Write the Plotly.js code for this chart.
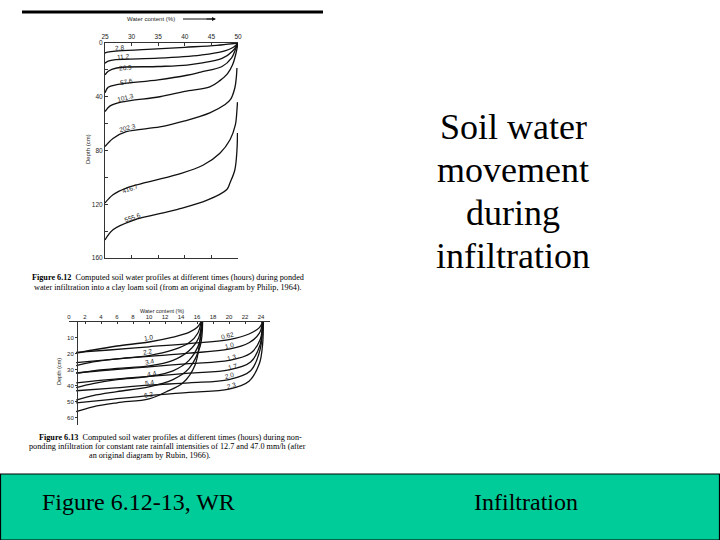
<!DOCTYPE html>
<html><head><meta charset="utf-8">
<script src="https://cdn.plot.ly/plotly-3.0.1.min.js"></script>
<style>html,body{margin:0;padding:0;background:#fff}#g{width:720px;height:540px}</style>
</head><body><div id="g"></div>
<script>
// ---- Figure 6.12 (Philip): water content (%) vs depth (cm), times in hours
const topTimes = ["2.8","11.2","26.9","57.6","101.3","202.3","416.7","555.6"];
const topTheta1 = [25, 25.5, 27, 33, 40, 46, 50];
const topDepth1 = [7.5, 6.8, 6.0, 4.8, 3.2, 1.7, 0];
const topTheta2 = [25, 25.6, 27, 35, 43, 47, 49.2, 50];
const topDepth2 = [15, 13.5, 12.4, 11.3, 9, 6.5, 3, 0];
const topTheta3 = [25, 25.6, 27.2, 35, 40.4, 43, 47, 49, 50];
const topDepth3 = [23.8, 21, 18.6, 17.5, 16.4, 15, 11.5, 6, 0];
const topTheta4 = [25, 25.6, 27.2, 35, 40.4, 43, 47, 48.8, 49.5, 50];
const topDepth4 = [37, 33, 31, 27.5, 24, 21.6, 17.5, 11, 5, 0];
const topTheta5 = [25, 25.9, 28, 35.3, 40, 44.7, 46.6, 48, 49, 49.6, 50];
const topDepth5 = [51, 47, 44, 40, 36, 32.7, 28, 23, 16, 8, 0];
const topTheta6 = [25, 26.5, 29, 35.3, 40, 44.7, 47.5, 48.6, 49.4, 49.7, 49.8];
const topDepth6 = [77, 71, 66, 62.5, 58, 52, 46, 42, 33.5, 25, 18.6];
const topTheta7 = [25, 26.5, 29, 38.5, 43.4, 46.6, 48.5, 49.5, 49.8, 49.9];
const topDepth7 = [119, 113, 108, 98, 91, 82, 72, 61, 50, 44];
const topTheta8 = [25, 26.5, 30.3, 38.5, 44.2, 47.9, 48.5, 49.4, 49.8, 49.9];
const topDepth8 = [146.6, 139, 132, 124, 117, 109, 104, 94.5, 80, 67];
const topLabelTheta = [27.8, 28.4, 28.8, 29.1, 28.8, 29.3, 29.7, 30.1];
const topLabelDepth = [3, 10.4, 17.9, 29, 40.5, 63, 108.6, 129.5];
const topLabelAngle = [-6, -5, -5, -10, -15, -15, -20, -20];
const topXTicks = [25, 30, 35, 40, 45, 50];
const topYTicks = [0, 20, 40, 60, 80, 100, 120, 140, 160];
const topYTickText = ["0", "", "40", "", "80", "", "120", "", "160"];

// ---- Figure 6.13 (Rubin): rainfall 12.7 mm/h (A) and 47.0 mm/h (B)
const lowTimes = ["1.0","2.2","3.4","4.4","5.4","6.2"];
const lowTheta1 = [0.9, 3, 6, 10, 13, 15, 16, 16.5];
const lowDepth1 = [19.5, 17.5, 15, 12.5, 9.5, 6.5, 3.5, 0];
const lowTheta2 = [0.9, 3, 6, 10, 13, 15, 16.1, 16.5];
const lowDepth2 = [27.3, 25, 23, 21, 17.5, 13, 7, 0];
const lowTheta3 = [0.9, 3, 6, 10, 13, 15, 16.2, 16.6];
const lowDepth3 = [32, 30.5, 29, 27.5, 24, 18, 10, 0];
const lowTheta4 = [0.9, 3, 6, 10, 13, 15, 16.3, 16.6];
const lowDepth4 = [41, 38.5, 36, 34, 30.5, 24, 13, 0];
const lowTheta5 = [0.9, 3, 6, 10, 13, 15, 16.4, 16.7];
const lowDepth5 = [48.8, 46, 43.5, 40.5, 36, 29, 15, 0];
const lowTheta6 = [0.9, 3, 6, 10, 12.1, 14.25, 15.75, 16.4, 16.6];
const lowDepth6 = [56, 53, 50.5, 48, 43.75, 38, 27, 10, 0];
const lowLabelTheta = [9.9, 9.75, 10, 10.25, 10.1, 9.9];
const lowLabelDepth = [10, 18.75, 25, 31.9, 38, 45.6];

const highTimes = ["0.62","1.0","1.3","1.7","2.0","2.3"];
const highTheta1 = [0.9, 5, 10, 15, 20, 22.5, 23.8, 24.2];
const highDepth1 = [19, 17.5, 15.5, 13.5, 11, 7.5, 3.5, 0];
const highTheta2 = [0.9, 5, 10, 15, 20, 22.5, 23.8, 24.2];
const highDepth2 = [25.4, 23.5, 21.5, 19.5, 17, 13, 7, 0];
const highTheta3 = [0.9, 5, 10, 15, 20, 22.7, 23.9, 24.2];
const highDepth3 = [31.9, 30, 28, 26, 24, 19.5, 11, 0];
const highTheta4 = [0.9, 5, 10, 15, 20, 22.7, 23.9, 24.2];
const highDepth4 = [38, 36, 34, 32, 30, 25, 14, 0];
const highTheta5 = [0.9, 5, 10, 15, 20, 22.7, 23.9, 24.2];
const highDepth5 = [43, 41.5, 39.5, 38, 36, 30.5, 17, 0];
const highTheta6 = [0.9, 5, 10, 15, 20, 22.5, 23.8, 24.2, 24.3];
const highDepth6 = [50.6, 48.5, 46, 44, 42, 37, 26, 14, 0];
const highLabelTheta = [19.75, 20, 20.25, 20.4, 20, 20.25];
const highLabelDepth = [8.75, 15, 21.9, 28, 33.75, 40];
const lowXTicks = [0, 2, 4, 6, 8, 10, 12, 14, 16, 18, 20, 22, 24];
const lowYTicks = [10, 20, 30, 40, 50, 60];

const W = 720, H = 540;
const px = v => v / W, py = v => 1 - v / H;
const serif = "Liberation Serif, Times New Roman, serif";
const sans = "Liberation Sans, Arial, sans-serif";

const topX = [topTheta1, topTheta2, topTheta3, topTheta4, topTheta5, topTheta6, topTheta7, topTheta8];
const topY = [topDepth1, topDepth2, topDepth3, topDepth4, topDepth5, topDepth6, topDepth7, topDepth8];
const lowX = [lowTheta1, lowTheta2, lowTheta3, lowTheta4, lowTheta5, lowTheta6];
const lowY = [lowDepth1, lowDepth2, lowDepth3, lowDepth4, lowDepth5, lowDepth6];
const highX = [highTheta1, highTheta2, highTheta3, highTheta4, highTheta5, highTheta6];
const highY = [highDepth1, highDepth2, highDepth3, highDepth4, highDepth5, highDepth6];

const traces = [];
const lineStyle = {color: "#111", width: 1.3, shape: "spline", smoothing: 1};
topX.forEach((xs, i) => traces.push({x: xs, y: topY[i], xaxis: "x", yaxis: "y", mode: "lines", line: lineStyle, hoverinfo: "skip"}));
lowX.forEach((xs, i) => traces.push({x: xs, y: lowY[i], xaxis: "x2", yaxis: "y2", mode: "lines", line: lineStyle, hoverinfo: "skip"}));
highX.forEach((xs, i) => traces.push({x: xs, y: highY[i], xaxis: "x2", yaxis: "y2", mode: "lines", line: lineStyle, hoverinfo: "skip"}));

const annotations = [];
const lblFont = {family: sans, size: 6.5, color: "#222"};
topTimes.forEach((t, i) => annotations.push({x: topLabelTheta[i], y: topLabelDepth[i], xref: "x", yref: "y", text: t, showarrow: false, textangle: topLabelAngle[i], font: lblFont}));
lowTimes.forEach((t, i) => annotations.push({x: lowLabelTheta[i], y: lowLabelDepth[i], xref: "x2", yref: "y2", text: t, showarrow: false, textangle: -10, font: lblFont}));
highTimes.forEach((t, i) => annotations.push({x: highLabelTheta[i], y: highLabelDepth[i], xref: "x2", yref: "y2", text: t, showarrow: false, textangle: -14, font: lblFont}));

function note(text, x, y, size, family, opts) {
  return Object.assign({x: px(x), y: py(y), xref: "paper", yref: "paper", text: text, showarrow: false,
    font: {family: family, size: size, color: "#000"}, xanchor: "center", yanchor: "middle"}, opts || {});
}
const capSize = 8.2;
// top figure texts
annotations.push(note("Water content (%)", 151, 19, 6, sans, {font: {family: sans, size: 6, color: "#222"}}));
annotations.push(note("Depth (cm)", 88, 149, 6, sans, {textangle: -90, font: {family: sans, size: 6, color: "#222"}}));
annotations.push(note("<b>Figure 6.12</b>  Computed soil water profiles at different times (hours) during ponded", 30, 277, capSize, serif, {xanchor: "left"}));
annotations.push(note("water infiltration into a clay loam soil (from an original diagram by Philip, 1964).", 32, 287, capSize, serif, {xanchor: "left"}));
// bottom figure texts
annotations.push(note("Water content (%)", 162, 311, 5.5, sans, {font: {family: sans, size: 5.5, color: "#222"}}));
annotations.push(note("Depth (cm)", 59, 372, 5.5, sans, {textangle: -90, font: {family: sans, size: 5.5, color: "#222"}}));
annotations.push(note("<b>Figure 6.13</b>  Computed soil water profiles at different times (hours) during non-", 37, 437, capSize, serif, {xanchor: "left"}));
annotations.push(note("ponding infiltration for constant rate rainfall intensities of 12.7 and 47.0 mm/h (after", 27, 446, capSize, serif, {xanchor: "left"}));
annotations.push(note("an original diagram by Rubin, 1966).", 150, 455, capSize, serif));
// slide title
["Soil water", "movement", "during", "infiltration"].forEach((s, i) => annotations.push(note(s, 513, 127 + 43 * i, 36, serif)));
// footer
annotations.push(note("Figure 6.12-13, WR", 138, 502, 24, serif));
annotations.push(note("Infiltration", 526, 502, 24, serif));

const tickFont = {family: sans, size: 6.5, color: "#222"};
const layout = {
  width: W, height: H, margin: {l: 0, r: 0, t: 0, b: 0},
  paper_bgcolor: "#fff", plot_bgcolor: "rgba(0,0,0,0)", showlegend: false,
  xaxis: {domain: [px(105), px(238)], range: [25, 50], side: "top", anchor: "y", tickvals: topXTicks,
    ticks: "inside", ticklen: 3, tickcolor: "#333", showline: true, linecolor: "#333", linewidth: 1, mirror: "ticks",
    showgrid: false, zeroline: false, tickfont: tickFont},
  yaxis: {domain: [py(258), py(43)], range: [160, 0], anchor: "x", tickvals: topYTicks, ticktext: topYTickText,
    ticks: "inside", ticklen: 3, tickcolor: "#333", showline: true, linecolor: "#333", linewidth: 1,
    showgrid: false, zeroline: false, tickfont: tickFont},
  xaxis2: {domain: [px(69), px(270)], range: [0, 25.125], side: "top", anchor: "y2", tickvals: lowXTicks,
    ticks: "inside", ticklen: 2, tickcolor: "#333", showline: true, linecolor: "#333", linewidth: 1,
    showgrid: false, zeroline: false, tickfont: {family: sans, size: 6, color: "#222"}},
  yaxis2: {domain: [py(425), py(322)], range: [64.4, 0], anchor: "free", position: px(77), tickvals: lowYTicks,
    ticks: "outside", ticklen: 2, tickcolor: "#333", showline: true, linecolor: "#333", linewidth: 1,
    showgrid: false, zeroline: false, tickfont: {family: sans, size: 6, color: "#222"}},
  shapes: [
    {type: "line", xref: "paper", yref: "paper", x0: px(22), x1: px(323), y0: py(12), y1: py(12), line: {color: "#000", width: 3}},
    {type: "line", xref: "paper", yref: "paper", x0: px(183), x1: px(214), y0: py(19), y1: py(19), line: {color: "#111", width: 1}},
    {type: "rect", xref: "paper", yref: "paper", x0: px(0.5), x1: px(719.5), y0: 0, y1: py(474), fillcolor: "#00CC99", line: {color: "#000", width: 1.2}, layer: "below"}
  ],
  annotations: annotations
};
// arrow head for the axis label of figure 6.12
annotations.push({x: px(216), y: py(19), ax: px(205), ay: py(19), xref: "paper", yref: "paper", axref: "paper", ayref: "paper",
  showarrow: true, arrowhead: 2, arrowsize: 0.8, arrowwidth: 1, arrowcolor: "#111", text: ""});
Plotly.newPlot("g", traces, layout, {staticPlot: true});
</script></body></html>
